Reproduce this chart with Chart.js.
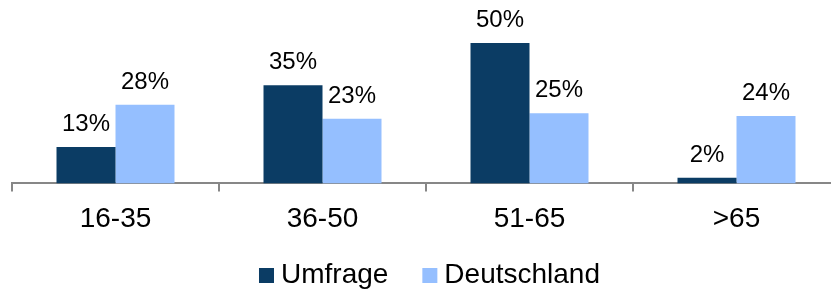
<!DOCTYPE html>
<html lang="de">
<head>
  <meta charset="UTF-8" />
  <title>Altersverteilung</title>
  <script src="https://cdn.jsdelivr.net/npm/chart.js@4.4.0/dist/chart.umd.min.js"></script>
  <style>
    html, body {
      margin: 0;
      padding: 0;
      background: #fff;
      overflow: hidden;
    }
    #wrap {
      width: 840px;
      height: 292px;
    }
  </style>
</head>
<body>
  <div id="wrap"><canvas id="ageChart"></canvas></div>

  <script>
    const categories = ['16-35', '36-50', '51-65', '>65'];
    const umfrage = [13, 35, 50, 2];
    const deutschland = [28, 23, 25, 24];
    const seriesNames = ['Umfrage', 'Deutschland'];
    const seriesColors = ['#0b3c64', '#95bfff'];

    const FONT = '"Liberation Sans", Arial, sans-serif';

    // Prozentwerte über den Balken
    const valueLabels = {
      id: 'valueLabels',
      afterDatasetsDraw(chart) {
        const ctx = chart.ctx;
        ctx.save();
        ctx.font = '24px ' + FONT;
        ctx.fillStyle = '#000';
        ctx.textAlign = 'center';
        ctx.textBaseline = 'alphabetic';
        chart.data.datasets.forEach((ds, i) => {
          chart.getDatasetMeta(i).data.forEach((bar, j) => {
            ctx.fillText(ds.data[j] + '%', bar.x, bar.y - 16);
          });
        });
        ctx.restore();
      }
    };

    // Legende unten, wie im Original (kleine Quadrate, enger Abstand)
    const bottomLegend = {
      id: 'bottomLegend',
      afterDraw(chart) {
        const ctx = chart.ctx;
        ctx.save();
        ctx.font = '28px ' + FONT;
        ctx.textBaseline = 'alphabetic';
        const box = 15, gap = 7, between = 34;
        const items = chart.data.datasets.map(ds => ({
          label: ds.label,
          color: ds.backgroundColor,
          w: ctx.measureText(ds.label).width
        }));
        let total = 0;
        items.forEach((it, i) => { total += box + gap + it.w + (i ? between : 0); });
        let x = 429.5 - total / 2;
        const base = 283;
        items.forEach(it => {
          ctx.fillStyle = it.color;
          ctx.fillRect(x, base - box, box, box);
          ctx.fillStyle = '#000';
          ctx.fillText(it.label, x + box + gap, base);
          x += box + gap + it.w + between;
        });
        ctx.restore();
      }
    };

    new Chart(document.getElementById('ageChart'), {
      type: 'bar',
      data: {
        labels: categories,
        datasets: [
          { label: seriesNames[0], data: umfrage, backgroundColor: seriesColors[0] },
          { label: seriesNames[1], data: deutschland, backgroundColor: seriesColors[1] }
        ]
      },
      options: {
        responsive: true,
        maintainAspectRatio: false,
        animation: false,
        layout: { padding: { left: 12, right: 0, top: 0, bottom: 45 } },
        datasets: {
          bar: { categoryPercentage: 0.57, barPercentage: 1 }
        },
        scales: {
          x: {
            grid: {
              offset: true,
              drawOnChartArea: false,
              drawTicks: true,
              tickLength: 8,
              color: '#878787',
              lineWidth: 2
            },
            border: { display: true, color: '#878787', width: 2 },
            ticks: {
              color: '#000',
              padding: 11,
              font: { family: FONT, size: 28 },
              maxRotation: 0
            }
          },
          y: {
            display: false,
            min: 0,
            max: 65.36
          }
        },
        plugins: {
          legend: { display: false },
          tooltip: { enabled: false }
        }
      },
      plugins: [valueLabels, bottomLegend]
    });
  </script>
</body>
</html>
